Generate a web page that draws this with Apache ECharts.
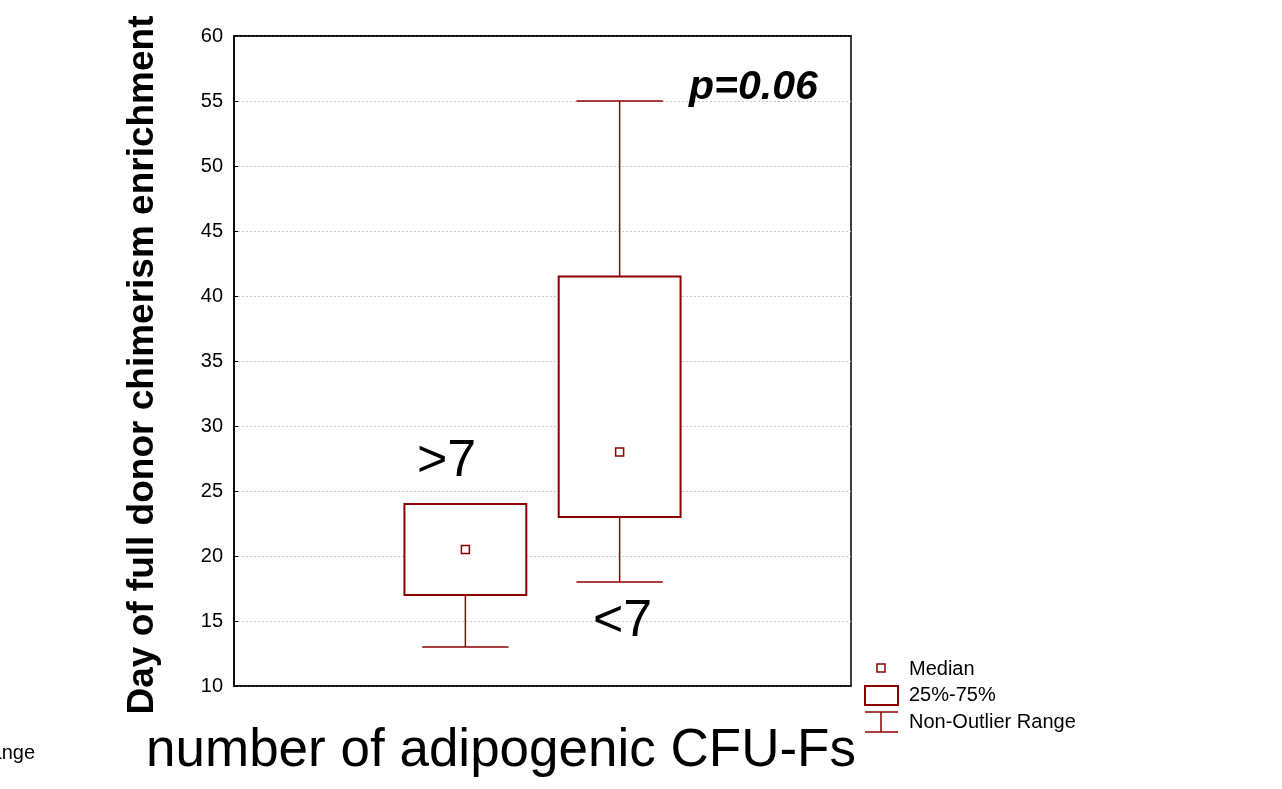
<!DOCTYPE html>
<html>
<head>
<meta charset="utf-8">
<script src="https://cdn.jsdelivr.net/npm/echarts@6/dist/echarts.min.js"></script>
<style>
  html, body { margin: 0; padding: 0; background: #fff; }
  #chart { width: 1282px; height: 789px; }
</style>
</head>
<body>
<div id="chart"></div>
<script>
// slots on the x axis (4 bands, boxes sit in the middle two)
var slots = ['s0', 's1', 's2', 's3'];
var groups = ['>7', '<7'];
var groupSlot = [1, 2];
var whiskerLow = [13, 18];
var q1 = [17, 23];
var median = [20.5, 28];
var q3 = [24, 41.5];
var whiskerHigh = [24, 55];
var yTicks = [10, 15, 20, 25, 30, 35, 40, 45, 50, 55, 60];

var RED = '#8b0000';
var FONT = '"Liberation Sans", Arial, sans-serif';

var boxData = groups.map(function (g, i) {
    return [groupSlot[i], whiskerLow[i], q1[i], median[i], q3[i], whiskerHigh[i]];
});

function renderBox(params, api) {
    var x = api.value(0);
    var pLo = api.coord([x, api.value(1)]),
        pQ1 = api.coord([x, api.value(2)]),
        pMed = api.coord([x, api.value(3)]),
        pQ3 = api.coord([x, api.value(4)]),
        pHi = api.coord([x, api.value(5)]);
    var band = api.size([1, 0])[0];
    var boxW = band * 0.79, capW = band * 0.56;
    var cx = pMed[0];
    var line = function (x1, y1, x2, y2) {
        return {type: 'line', shape: {x1: x1, y1: y1, x2: x2, y2: y2},
            style: {stroke: RED, lineWidth: 1.5}};
    };
    return {
        type: 'group',
        children: [
            line(cx, pHi[1], cx, pQ3[1]),
            line(cx - capW / 2, pHi[1], cx + capW / 2, pHi[1]),
            line(cx, pQ1[1], cx, pLo[1]),
            line(cx - capW / 2, pLo[1], cx + capW / 2, pLo[1]),
            {type: 'rect', shape: {x: cx - boxW / 2, y: pQ3[1], width: boxW, height: pQ1[1] - pQ3[1]},
                style: {stroke: RED, lineWidth: 2, fill: '#fff'}},
            {type: 'rect', shape: {x: cx - 4, y: pMed[1] - 4, width: 8, height: 8},
                style: {stroke: RED, lineWidth: 1.5, fill: '#fff'}}
        ]
    };
}

function txt(text, x, y, font, align, extra) {
    var el = {type: 'text', x: x, y: y, z: 10,
        style: {text: text, font: font, fill: '#000', align: align || 'left', verticalAlign: 'middle'}};
    if (extra) Object.keys(extra).forEach(function (k) { el[k] = extra[k]; });
    return el;
}

var chart = echarts.init(document.getElementById('chart'));
chart.setOption({
    animation: false,
    backgroundColor: '#fff',
    grid: {left: 234, top: 36, width: 617, height: 650, show: true,
        borderColor: '#000', borderWidth: 1.5, backgroundColor: 'transparent'},
    xAxis: [{
        type: 'category', data: slots, boundaryGap: true,
        axisLine: {lineStyle: {color: '#000', width: 1.5}},
        axisTick: {inside: true, alignWithLabel: true, length: 5, lineStyle: {color: '#000'}},
        axisLabel: {show: false}
    }, {
        type: 'category', data: slots, position: 'top', boundaryGap: true,
        axisLine: {lineStyle: {color: '#000', width: 1.5}},
        axisTick: {inside: true, alignWithLabel: true, length: 5, lineStyle: {color: '#000'}},
        axisLabel: {show: false}
    }],
    yAxis: {
        type: 'value', min: yTicks[0], max: yTicks[yTicks.length - 1], interval: 5,
        axisLine: {show: true, lineStyle: {color: '#000', width: 1.5}},
        axisTick: {show: true, inside: true, length: 4, lineStyle: {color: '#000'}},
        axisLabel: {fontFamily: FONT, fontSize: 20, color: '#000', margin: 11},
        splitLine: {show: true, lineStyle: {color: '#c8c8c8', type: [2, 2], width: 1}}
    },
    series: [{
        type: 'custom',
        renderItem: renderBox,
        encode: {x: 0, y: [1, 2, 3, 4, 5]},
        data: boxData,
        z: 5
    }],
    graphic: [
        // axis titles
        txt('Day of full donor chimerism enrichment', 143, 365, 'bold 37px ' + FONT, 'center', {rotation: Math.PI / 2}),
        txt('number of adipogenic CFU-Fs', 501, 751, '53px ' + FONT, 'center'),
        // group labels and p value
        txt(groups[0], 417, 462, '52px ' + FONT),
        txt(groups[1], 593, 622, '52px ' + FONT),
        txt('p=0.06', 689, 88, 'italic bold 41px ' + FONT),
        // cut-off legend text at far left
        txt('Non-Outlier Range', 35, 753, '20px ' + FONT, 'right'),
        // legend
        {type: 'rect', shape: {x: 877, y: 664, width: 8, height: 8}, style: {stroke: RED, lineWidth: 1.5, fill: '#fff'}},
        {type: 'rect', shape: {x: 865, y: 686, width: 33, height: 19}, style: {stroke: RED, lineWidth: 2, fill: '#fff'}},
        {type: 'line', shape: {x1: 865, y1: 712, x2: 898, y2: 712}, style: {stroke: RED, lineWidth: 1.5}},
        {type: 'line', shape: {x1: 881, y1: 712, x2: 881, y2: 732}, style: {stroke: RED, lineWidth: 1.5}},
        {type: 'line', shape: {x1: 865, y1: 732, x2: 898, y2: 732}, style: {stroke: RED, lineWidth: 1.5}},
        txt('Median', 909, 669, '20px ' + FONT),
        txt('25%-75%', 909, 695, '20px ' + FONT),
        txt('Non-Outlier Range', 909, 722, '20px ' + FONT)
    ]
});
window.addEventListener('resize', function () { chart.resize(); });
</script>
</body>
</html>
